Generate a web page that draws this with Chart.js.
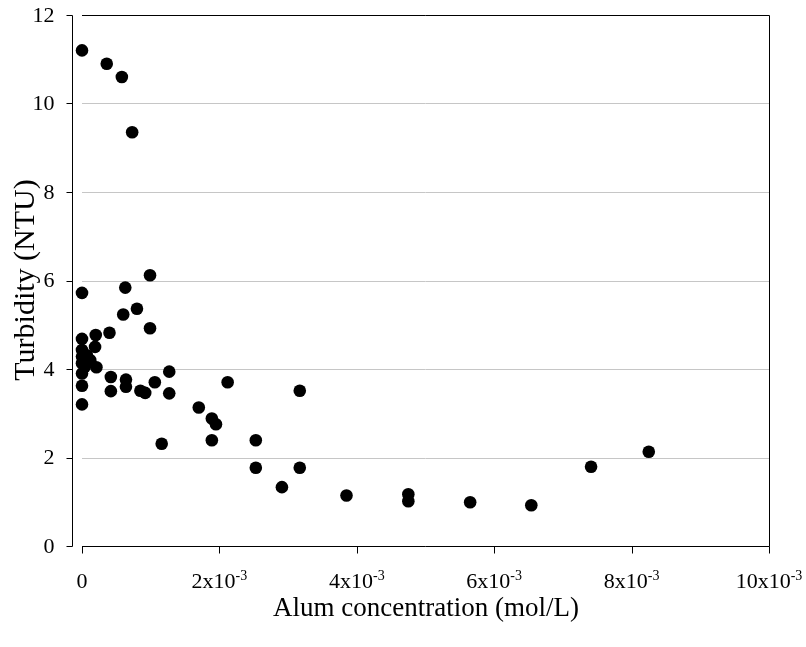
<!DOCTYPE html>
<html lang="en">
<head>
  <meta charset="UTF-8" />
  <title>Turbidity vs alum concentration</title>
  <script src="https://cdn.jsdelivr.net/npm/chart.js"></script>
  <style>
    body {
      margin: 0;
      padding: 0;
      background: #fff;
    }
    canvas {
      display: block;
    }
  </style>
</head>
<body>
  <canvas id="turbidityChart" width="806" height="647"></canvas>

  <script>
    // alum dose (mol/L) and measured turbidity (NTU), one entry per jar test
    const alumConc = [
      0, 0.36e-3, 0.58e-3, 0.73e-3,
      0, 0.63e-3, 0.99e-3, 0.80e-3, 0.60e-3, 0.99e-3, 0.40e-3, 0.20e-3, 0, 0.19e-3,
      0, 0, 0.07e-3, 0.12e-3, 0, 0.04e-3, 0.21e-3, 0, 0, 0,
      0.42e-3, 0.42e-3, 0.64e-3, 0.64e-3, 0.85e-3, 0.92e-3, 1.06e-3, 1.27e-3, 1.27e-3, 1.16e-3,
      1.70e-3, 1.89e-3, 1.95e-3, 1.89e-3, 2.12e-3, 2.53e-3, 2.53e-3, 3.17e-3, 3.17e-3, 2.91e-3,
      3.85e-3, 4.75e-3, 4.75e-3, 5.65e-3, 6.54e-3, 7.41e-3, 8.25e-3
    ];
    const turbidity = [
      11.2, 10.9, 10.6, 9.35,
      5.72, 5.84, 6.12, 5.36, 5.23, 4.92, 4.82, 4.77, 4.68, 4.50,
      4.43, 4.28, 4.31, 4.20, 4.13, 4.05, 4.04, 3.90, 3.62, 3.20,
      3.82, 3.50, 3.76, 3.60, 3.51, 3.46, 3.70, 3.94, 3.45, 2.31,
      3.13, 2.88, 2.75, 2.39, 3.70, 2.39, 1.77, 3.51, 1.77, 1.33,
      1.14, 1.17, 1.01, 0.99, 0.92, 1.79, 2.13
    ];

    // axis ticks
    const yTicks = [0, 2, 4, 6, 8, 10, 12];
    const xTicks = [0, 2e-3, 4e-3, 6e-3, 8e-3, 10e-3];
    const xTickBase = ['0', '2x10', '4x10', '6x10', '8x10', '10x10'];
    const xTickExp = ['', '-3', '-3', '-3', '-3', '-3'];

    const xTitle = 'Alum concentration (mol/L)';
    const yTitle = 'Turbidity (NTU)';

    const FONT = '"Liberation Serif", "Times New Roman", serif';

    function text(ctx, str, x, y, size, align, sx) {
      ctx.save();
      ctx.translate(x, y);
      ctx.scale(sx || 1, 1);
      ctx.font = size + 'px ' + FONT;
      ctx.textAlign = align;
      ctx.fillText(str, 0, 0);
      ctx.restore();
    }

    // gridlines behind the points
    const gridPlugin = {
      id: 'grid',
      beforeDatasetsDraw(chart) {
        const { ctx, chartArea: a, scales: { y } } = chart;
        ctx.save();
        ctx.strokeStyle = '#c6c6c6';
        ctx.lineWidth = 1;
        yTicks.forEach(v => {
          if (v === 0 || v === 12) return;
          const py = Math.round(y.getPixelForValue(v)) + 0.5;
          ctx.beginPath();
          ctx.moveTo(a.left, py);
          ctx.lineTo(a.right, py);
          ctx.stroke();
        });
        ctx.restore();
      }
    };

    // axis lines, frame, ticks and labels
    const axesPlugin = {
      id: 'axes',
      afterDraw(chart) {
        const { ctx, chartArea: a, scales: { x, y } } = chart;
        const yAxisX = a.left - 9.5;
        const bottom = Math.round(a.bottom) + 0.5;
        const top = Math.round(a.top) + 0.5;
        const right = Math.round(a.right) + 0.5;

        ctx.save();
        ctx.strokeStyle = '#000';
        ctx.lineWidth = 1;
        ctx.beginPath();
        // y axis, set off to the left of the plot
        ctx.moveTo(yAxisX, top);
        ctx.lineTo(yAxisX, bottom);
        yTicks.forEach(v => {
          const py = Math.round(y.getPixelForValue(v)) + 0.5;
          ctx.moveTo(yAxisX - 6, py);
          ctx.lineTo(yAxisX, py);
        });
        // x axis and the frame
        ctx.moveTo(a.left, bottom);
        ctx.lineTo(right, bottom);
        ctx.moveTo(a.left, top);
        ctx.lineTo(right, top);
        ctx.lineTo(right, bottom);
        xTicks.forEach(v => {
          const px = Math.round(x.getPixelForValue(v)) + 0.5;
          ctx.moveTo(px, bottom);
          ctx.lineTo(px, bottom + 7);
        });
        ctx.stroke();

        ctx.fillStyle = '#000';
        ctx.textBaseline = 'middle';
        yTicks.forEach(v => {
          text(ctx, String(v), yAxisX - 18, y.getPixelForValue(v) + 1, 22, 'right');
        });

        ctx.textBaseline = 'alphabetic';
        xTicks.forEach((v, i) => {
          const px = x.getPixelForValue(v);
          ctx.font = '22px ' + FONT;
          const wb = ctx.measureText(xTickBase[i]).width;
          ctx.font = '14px ' + FONT;
          const we = ctx.measureText(xTickExp[i]).width;
          const start = px - (wb + we) / 2;
          text(ctx, xTickBase[i], start, 588, 22, 'left');
          if (xTickExp[i]) text(ctx, xTickExp[i], start + wb, 580, 14, 'left');
        });

        text(ctx, xTitle, 426, 616, 27, 'center');

        ctx.save();
        ctx.translate(34, 280);
        ctx.rotate(-Math.PI / 2);
        text(ctx, yTitle, 0, 0, 30, 'center');
        ctx.restore();

        ctx.restore();
      }
    };

    const points = alumConc.map((c, i) => ({ x: c, y: turbidity[i] }));

    new Chart('turbidityChart', {
      type: 'scatter',
      data: {
        datasets: [{
          label: 'Turbidity',
          data: points,
          backgroundColor: '#000',
          borderWidth: 0,
          pointRadius: 6.3,
          pointHoverRadius: 6.3,
          clip: false
        }]
      },
      options: {
        responsive: false,
        animation: false,
        devicePixelRatio: 1,
        layout: {
          padding: { left: 82, top: 15, right: 37, bottom: 101 }
        },
        scales: {
          x: { type: 'linear', min: 0, max: 0.01, display: false },
          y: { type: 'linear', min: 0, max: 12, display: false }
        },
        plugins: {
          legend: { display: false },
          tooltip: { enabled: false }
        }
      },
      plugins: [gridPlugin, axesPlugin]
    });
  </script>
</body>
</html>
